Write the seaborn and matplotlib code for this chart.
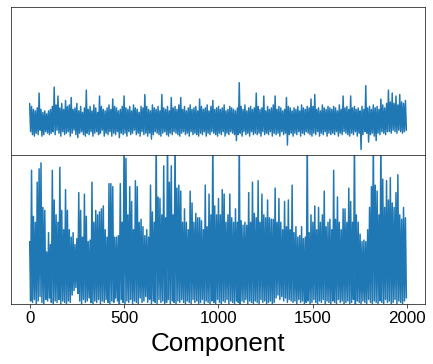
import numpy as np
import seaborn as sns
from matplotlib import pyplot as plt

# component index, sampled every 5th component
components = np.arange(0, 2000, 5)

# upper trace (arbitrary units, axis spans 0-100)
upper_vals = [
    35, 16, 33, 14, 31, 13, 30, 15, 32, 14, 42, 17, 31, 13, 29, 14, 30, 16, 28, 15,
    30, 14, 31, 15, 33, 16, 46, 14, 34, 17, 40, 15, 32, 13, 35, 16, 31, 14, 37, 15,
    33, 16, 34, 13, 39, 15, 31, 17, 32, 14, 35, 12, 30, 15, 33, 16, 29, 14, 32, 13,
    44, 15, 31, 14, 33, 16, 30, 13, 34, 15, 32, 16, 29, 14, 40, 15, 33, 17, 31, 13,
    30, 15, 32, 14, 34, 16, 31, 13, 38, 15, 33, 14, 32, 16, 30, 12, 31, 15, 33, 14,
    40, 15, 32, 13, 31, 16, 33, 14, 30, 15, 34, 17, 32, 14, 31, 15, 29, 13, 33, 16,
    32, 14, 41, 15, 33, 13, 31, 15, 30, 11, 34, 14, 32, 16, 31, 15, 33, 14, 30, 13,
    41, 15, 32, 16, 31, 14, 33, 13, 30, 15, 39, 14, 32, 16, 33, 15, 31, 14, 34, 13,
    39, 15, 31, 16, 33, 14, 30, 15, 32, 13, 34, 16, 31, 14, 32, 15, 33, 14, 30, 13,
    38, 15, 33, 14, 31, 16, 32, 13, 34, 15, 30, 14, 33, 16, 37, 15, 31, 14, 32, 13,
    33, 15, 31, 14, 32, 16, 34, 13, 30, 15, 31, 14, 33, 16, 32, 15, 31, 14, 30, 10,
    32, 14, 49, 15, 33, 13, 31, 16, 34, 14, 30, 15, 32, 13, 33, 16, 31, 14, 32, 15,
    42, 14, 33, 15, 31, 13, 32, 16, 40, 14, 30, 15, 33, 14, 31, 16, 32, 13, 34, 15,
    40, 14, 31, 15, 33, 13, 32, 16, 30, 14, 31, 15, 39, 7, 33, 14, 32, 15, 30, 13,
    32, 15, 31, 14, 33, 16, 30, 13, 34, 15, 32, 14, 31, 16, 33, 15, 32, 14, 38, 13,
    33, 15, 41, 14, 31, 16, 32, 13, 30, 15, 34, 14, 32, 16, 31, 13, 33, 15, 32, 14,
    31, 15, 33, 14, 32, 16, 30, 13, 34, 15, 31, 14, 40, 16, 32, 15, 33, 14, 31, 13,
    40, 15, 32, 14, 33, 16, 31, 13, 32, 15, 30, 4, 33, 14, 31, 16, 47, 15, 32, 9,
    33, 14, 31, 15, 34, 13, 32, 10, 33, 15, 31, 14, 38, 16, 34, 15, 32, 14, 35, 16,
    44, 16, 36, 15, 42, 17, 35, 16, 40, 15, 34, 17, 41, 16, 36, 15, 35, 16, 37, 17,
]

# lower trace (same units, values above 100 run off the axis)
lower_vals = [
    42, 2, 90, 1, 59, 3, 55, 0, 82, 2, 91, 5, 95, 1, 65, 0, 63, 3, 35, 2,
    48, 4, 40, 1, 90, 0, 70, 2, 60, 1, 55, 3, 92, 0, 63, 2, 50, 1, 77, 0,
    63, 2, 50, 1, 45, 6, 48, 9, 40, 11, 44, 7, 75, 2, 63, 0, 45, 3, 74, 1,
    59, 2, 42, 4, 43, 1, 82, 0, 55, 2, 63, 1, 60, 3, 62, 0, 64, 2, 66, 1,
    50, 3, 45, 1, 81, 0, 81, 2, 79, 1, 45, 4, 45, 2, 46, 0, 81, 3, 55, 1,
    115, 0, 98, 2, 60, 1, 79, 3, 69, 0, 50, 2, 83, 1, 79, 0, 55, 4, 57, 1,
    52, 2, 46, 5, 50, 1, 45, 3, 80, 0, 62, 2, 55, 1, 115, 0, 72, 3, 71, 1,
    60, 2, 93, 0, 58, 1, 115, 3, 82, 0, 93, 2, 60, 1, 115, 0, 78, 2, 80, 1,
    76, 3, 55, 1, 64, 0, 55, 2, 50, 1, 76, 0, 68, 3, 55, 1, 61, 2, 58, 0,
    58, 1, 56, 3, 50, 0, 80, 2, 52, 1, 74, 0, 60, 2, 115, 1, 66, 0, 60, 3,
    71, 1, 60, 0, 77, 2, 74, 1, 55, 3, 60, 0, 74, 2, 58, 1, 55, 0, 64, 2,
    55, 1, 115, 0, 56, 2, 53, 1, 55, 3, 53, 0, 75, 2, 55, 1, 82, 0, 61, 2,
    58, 1, 83, 0, 55, 3, 74, 1, 60, 2, 58, 0, 70, 1, 58, 2, 57, 0, 57, 1,
    78, 4, 55, 6, 71, 3, 55, 5, 50, 2, 69, 4, 52, 1, 70, 3, 50, 2, 80, 1,
    48, 2, 52, 0, 45, 3, 46, 1, 52, 2, 44, 0, 45, 1, 115, 2, 48, 0, 60, 1,
    55, 3, 66, 1, 50, 0, 65, 2, 55, 1, 60, 3, 76, 0, 52, 2, 55, 1, 57, 0,
    50, 2, 90, 1, 57, 0, 72, 3, 55, 1, 50, 2, 64, 0, 64, 1, 55, 2, 78, 0,
    69, 1, 55, 3, 115, 0, 60, 2, 55, 1, 47, 0, 42, 2, 43, 1, 42, 0, 50, 3,
    65, 1, 79, 0, 115, 2, 80, 1, 76, 0, 60, 2, 115, 1, 84, 0, 65, 3, 83, 1,
    70, 2, 85, 0, 68, 1, 65, 3, 75, 0, 87, 2, 60, 1, 57, 0, 65, 2, 58, 4,
]


def plot_components():
    sns.set_style('ticks')
    plt.rcParams['font.family'] = ['Liberation Sans', 'DejaVu Sans']

    fig, (ax_top, ax_bot) = plt.subplots(2, 1, sharex=True, figsize=(433 / 72, 364 / 72), dpi=72)
    fig.subplots_adjust(left=0.025, right=0.982, top=0.981, bottom=0.165, hspace=0)

    sns.lineplot(x=components, y=upper_vals, ax=ax_top, color='#1f77b4', linewidth=1.5)
    sns.lineplot(x=components, y=lower_vals, ax=ax_bot, color='#1f77b4', linewidth=1.5)

    for ax in (ax_top, ax_bot):
        ax.set_ylim(0, 100)
        ax.set_yticks([])
        ax.set_ylabel('')
        for s in ax.spines.values():
            s.set_visible(True)
    ax_top.tick_params(axis='x', bottom=False, labelbottom=False)

    ax_bot.set_xticks([0, 500, 1000, 1500, 2000])
    ax_bot.tick_params(axis='x', labelsize=17, length=4, labelcolor='black')
    ax_bot.set_xlabel('Component', fontsize=26, labelpad=6, color='black')

    plt.savefig('out.png', dpi=72)


if __name__ == '__main__':
    plot_components()
